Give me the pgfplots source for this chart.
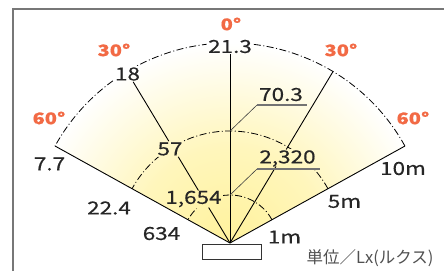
\documentclass[border=0pt]{standalone}
\usepackage{pgfplots}
\pgfplotsset{compat=1.18}
\usepackage{fontspec}
\setmainfont{Noto Sans CJK JP}
\newfontfamily\numf[FakeStretch=1.25, FakeBold=0.4]{Noto Sans CJK JP}
\definecolor{deg}{HTML}{F26A45}
\definecolor{fanc}{HTML}{FFF29C}
\definecolor{fanm}{HTML}{FFF6BC}
\definecolor{framec}{HTML}{777777}
\definecolor{jp}{HTML}{505050}
\pgfdeclareradialshading{fan}{\pgfpoint{0bp}{0bp}}{color(0bp)=(fanc); color(12bp)=(fanm); color(25bp)=(white); color(50bp)=(white)}
\tikzset{arcd/.style={line width=0.8pt, dash pattern=on 7pt off 2.5pt on 1pt off 2.5pt},
  val/.style={font=\nf, text=black!85, inner sep=1.2pt}}
\pgfplotsset{ray/.style={black, line width=0.9pt, data cs=polar}}
\newcommand\nf{\numf\fontsize{18}{18}\selectfont}
\newcommand\df{\numf\bfseries\fontsize{16}{16}\selectfont}
\begin{document}
\begin{tikzpicture}
\begin{axis}[x=1pt,y=1pt,xmin=-230,xmax=214,ymin=-28,ymax=243,hide axis,clip=false]
% fan shading
\begin{scope}
\clip (axis cs:0,0) -- (axis cs:-174.9,97.0) arc[start angle=151,end angle=29,radius=200pt] -- cycle;
\shade[shading=fan] (axis cs:0,0) circle[radius=200pt];
\end{scope}
% frame
\addplot[framec, line width=1.6pt] coordinates {(-217,-28) (-217,234) (214,234)};
% values (named, so that arcs can be kept out of them)
\node[val] (v1) at (axis cs:0,196.5) {21.3};
\node[val] (v2) at (axis cs:-102.5,169) {18};
\node[val] at (axis cs:-180.5,79) {7.7};
\node[val] (v3) at (axis cs:-60,94) {57};
\node[val] at (axis cs:-121,35) {22.4};
\node[val] at (axis cs:-68.5,9.5) {634};
\node[val] (v4) at (axis cs:-36.5,44) {1,654};
\node[val] (v5) at (axis cs:51,148.5) {70.3};
\node[val] (v6) at (axis cs:57.5,84.5) {2,320};
\begin{scope}[even odd rule]
\clip (axis cs:-230,-28) rectangle (axis cs:214,243)
  (v1.south west) rectangle (v1.north east)
  (v2.south west) rectangle (v2.north east)
  (v3.south west) rectangle (v3.north east)
  (v4.south west) rectangle (v4.north east)
  (v5.south west) rectangle (v5.north east)
  (v6.south west) rectangle (v6.north east);
% arcs: 10 m, 5 m, 1 m
\draw[arcd] (axis cs:174.9,97.0) arc[start angle=29,end angle=151,radius=200pt];
\draw[arcd] (axis cs:97.96,54.30) arc[start angle=29,end angle=151,radius=112pt];
\draw[arcd] (axis cs:41.98,23.27) arc[start angle=29,end angle=151,radius=48pt];
\end{scope}
% rays (angle, radius), broken where a value is written over them
\addplot[ray] coordinates {(90,0) (90,189)};
\addplot[ray] coordinates {(121,0) (121,41.4)};
\addplot[ray] coordinates {(121,61.3) (121,100.6)};
\addplot[ray] coordinates {(121,118.8) (121,188)};
\addplot[ray] coordinates {(59,0) (59,89.3)};
\addplot[ray] coordinates {(59,109.1) (59,200)};
\addplot[ray] coordinates {(151,0) (151,200)};
\addplot[ray] coordinates {(29,0) (29,200)};
% leaders
\addplot[black!75, line width=0.6pt] coordinates {(0,112) (27,138)};
\addplot[black!55, line width=1.3pt] coordinates {(27,138) (77,138)};
\addplot[black!75, line width=0.6pt] coordinates {(0,48) (27,74)};
\addplot[black!55, line width=1.3pt] coordinates {(27,74) (90,74)};
% lamp
\draw[fill=white, draw=black!80, line width=0.9pt] (axis cs:-28,-1) rectangle (axis cs:31,-16);
% degree labels
\node[deg, font=\df] at (axis cs:1,219) {0°};
\node[deg, font=\df] at (axis cs:-116,193) {30°};
\node[deg, font=\df] at (axis cs:111,193) {30°};
\node[deg, font=\df] at (axis cs:-181,125) {60°};
\node[deg, font=\df] at (axis cs:183,125) {60°};
% distances
\node[val] at (axis cs:173,74.5) {10m};
\node[val] at (axis cs:114.5,41.5) {5m};
\node[val] at (axis cs:54.5,6) {1m};
\node[font=\fontsize{16.5}{16.5}\selectfont, text=jp] at (axis cs:140,-15) {単位／Lx(ルクス)};
\coordinate (bbSW) at (axis cs:-230,-28);
\coordinate (bbNE) at (axis cs:214,243);
\end{axis}
\pgfresetboundingbox
\path[use as bounding box] (bbSW) rectangle (bbNE);
\end{tikzpicture}
\end{document}
